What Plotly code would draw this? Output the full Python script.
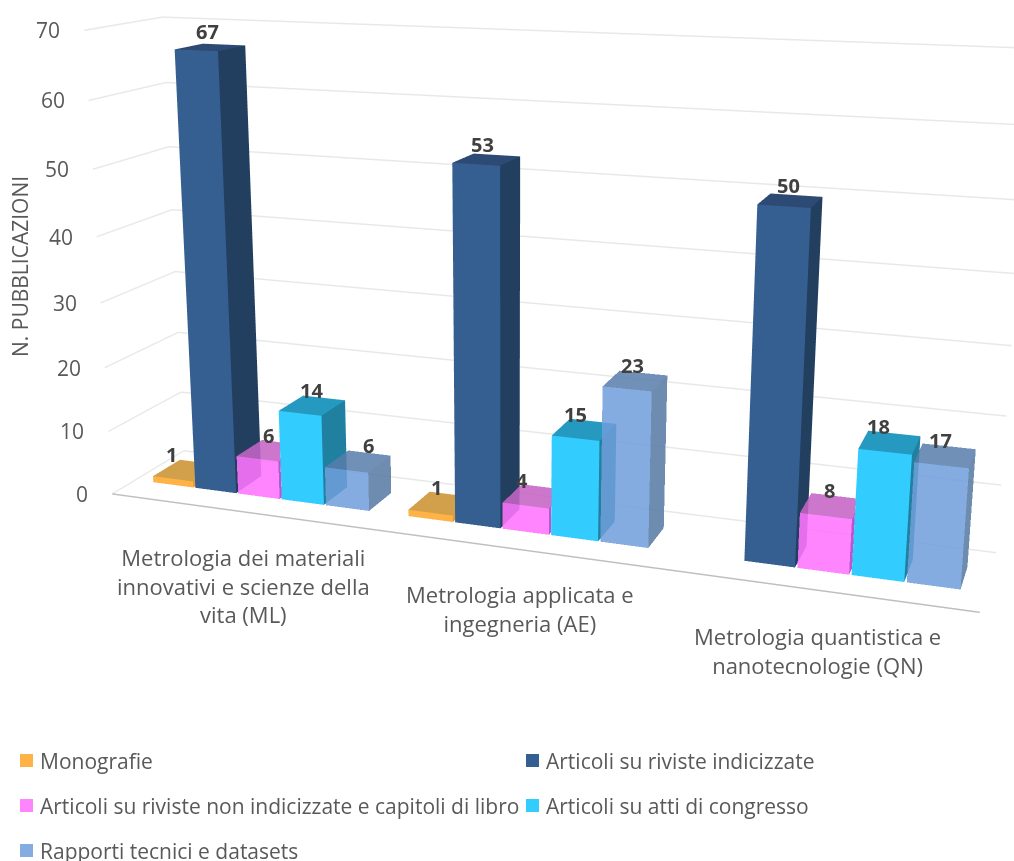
import plotly.graph_objects as go
import math

categories = ["Metrologia dei materiali<br>innovativi e scienze della<br>vita (ML)",
              "Metrologia applicata e<br>ingegneria (AE)",
              "Metrologia quantistica e<br>nanotecnologie (QN)"]
series_names = ["Monografie", "Articoli su riviste indicizzate",
                "Articoli su riviste non indicizzate e capitoli di libro",
                "Articoli su atti di congresso", "Rapporti tecnici e datasets"]
monografie = [1, 1, None]
indicizzate = [67, 53, 50]
non_indicizzate = [6, 4, 8]
atti = [14, 15, 18]
rapporti = [6, 23, 17]
values = [monografie, indicizzate, non_indicizzate, atti, rapporti]
z_ticks = [0, 10, 20, 30, 40, 50, 60, 70]
legend_colors = ["#FFB347", "#355F91", "#FF85FF", "#33CCFF", "#85ACE0"]
front = ["#FFB347", "#355F91", "#FF74FF", "#33CCFF", "#709EDB"]
top = ["#D2A04A", "#2C4A74", "#C564C5", "#2699C0", "#577DAC"]
side = ["#E09A3A", "#223F60", "#B23EC5", "#1F80A0", "#5578A2"]
opac = [1, 1, 0.88, 1, 0.85]
label_dx = [[-15, -5, 0], [-3, -4, -2], [-1, -13, -2], [-1, -9, -11], [10, -3, -5]]
category_dx = [6, 10, 4]

FW, FH = 1014, 1500          # long-lens canvas, centred on the chart by a negative top margin
TOP_OFFSET = 420
W = 0.172
INSET = 0.004
Y0, Y1 = 0.31, 0.69
FONT = "Open Sans"
GREY = "#595959"

def box(xa, xb, ya, yb, h):
    xs = [xa, xb, xb, xa, xa, xb, xb, xa]
    ys = [ya, ya, yb, yb, ya, ya, yb, yb]
    zs = [0, 0, 0, 0, h, h, h, h]
    return xs, ys, zs

fig = go.Figure()
scene_ann = []
for j, (name, vals) in enumerate(zip(series_names, values)):
    X, Y, Z, I, J, K, FC = [], [], [], [], [], [], []
    for i, v in enumerate(vals):
        if v is None:
            continue
        xc = i + 0.5 + (j - 2) * W
        xs, ys, zs = box(xc - W / 2 + INSET, xc + W / 2 - INSET, Y0, Y1, v)
        b = len(X)
        X += xs; Y += ys; Z += zs
        quads = [((0, 1, 5, 4), front[j]), ((4, 5, 6, 7), top[j]), ((1, 2, 6, 5), side[j])]
        for q, c in quads:
            I += [b + q[0], b + q[0]]; J += [b + q[1], b + q[2]]; K += [b + q[2], b + q[3]]
            FC += [c, c]
        scene_ann.append(dict(x=xc, y=(Y0 + Y1) / 2, z=v, text="<b>%d</b>" % v, showarrow=False,
                              yanchor="bottom", yshift=0, xshift=label_dx[j][i],
                              font=dict(family=FONT, size=20, color="#404040")))
    fig.add_trace(go.Mesh3d(x=X, y=Y, z=Z, i=I, j=J, k=K, facecolor=FC, flatshading=True,
                            opacity=opac[j], name=name, showlegend=False, hoverinfo="skip",
                            lighting=dict(ambient=1, diffuse=0, specular=0, fresnel=0, roughness=1)))

for i, c in enumerate(categories):
    scene_ann.append(dict(x=i + 0.5, y=0, z=0, text=c, showarrow=False, yanchor="top", yshift=-29, xshift=category_dx[i],
                          font=dict(family=FONT, size=22, color=GREY)))
for t in z_ticks:
    scene_ann.append(dict(x=0, y=0, z=t, text=str(t), showarrow=False, xanchor="right", xshift=-22,
                          font=dict(family=FONT, size=21, color=GREY)))

def px(x): return x / FW
def py(y): return 1 - (y + TOP_OFFSET) / FH

legend_pos = [(20, 761), (526, 761), (20, 806), (526, 806), (20, 851)]
shapes, anns = [], []
for (lx, ly), name, col in zip(legend_pos, series_names, legend_colors):
    shapes.append(dict(type="rect", xref="paper", yref="paper", x0=px(lx), x1=px(lx + 13),
                       y0=py(ly + 6), y1=py(ly - 7), fillcolor=col, line=dict(width=0)))
    anns.append(dict(text=name, xref="paper", yref="paper", x=px(lx + 18), y=py(ly), xanchor="left", yanchor="middle",
                     showarrow=False, font=dict(family=FONT, size=21, color=GREY)))
anns.append(dict(text="N. PUBBLICAZIONI", xref="paper", yref="paper", x=px(20), y=py(267), textangle=-90,
                 xanchor="center", yanchor="middle",
                 showarrow=False, font=dict(family=FONT, size=21, color=GREY)))

hidden = dict(showgrid=False, zeroline=False, showbackground=False, showticklabels=False, ticks="",
              showspikes=False, title="")
theta, phi, d = math.radians(20), math.radians(15), 0.6
k_scale = d / 3.3
s = FH / 0.828 / d
shift_x, shift_y = 29, 41
r = (math.cos(theta), math.sin(theta), 0)
u = (-math.sin(theta) * math.sin(phi), math.cos(theta) * math.sin(phi), math.cos(phi))
T = [-(shift_x / s) * r[k] - (shift_y / s) * u[k] for k in range(3)]
eye = (d * math.sin(theta) * math.cos(phi), -d * math.cos(theta) * math.cos(phi), d * math.sin(phi))

fig.update_layout(
    width=FW, height=FH, margin=dict(l=0, r=0, t=0, b=0), paper_bgcolor="white",
    font=dict(family=FONT, size=19, color=GREY), showlegend=False,
    shapes=shapes, annotations=anns,
    scene=dict(
        domain=dict(x=[0, 1], y=[0, 1]),
        aspectmode="manual", aspectratio=dict(x=1.665 * k_scale, y=0.28 * k_scale, z=0.905 * k_scale),
        camera=dict(eye=dict(x=eye[0] + T[0], y=eye[1] + T[1], z=eye[2] + T[2]),
                    center=dict(x=T[0], y=T[1], z=T[2]), up=dict(x=0, y=0, z=1)),
        xaxis=dict(range=[0, 3], showline=True, linecolor="#BFBFBF", linewidth=3, **hidden),
        yaxis=dict(range=[0, 1], showline=False, **hidden),
        zaxis=dict(range=[0, 70], dtick=10, tickmode="linear", tick0=0, showgrid=True, gridcolor="#E8E8E8", gridwidth=3,
                   zeroline=False, showbackground=False, showticklabels=False, ticks="", showspikes=False, title="",
                   showline=False),
        annotations=scene_ann,
    ),
)
fig.write_html("out.html", config=dict(displayModeBar=False),
               post_script="document.body.style.margin='0';document.documentElement.style.overflow='hidden';document.body.style.overflow='hidden';"
                           "document.querySelector('.plotly-graph-div').style.marginTop='-%dpx';" % TOP_OFFSET)
